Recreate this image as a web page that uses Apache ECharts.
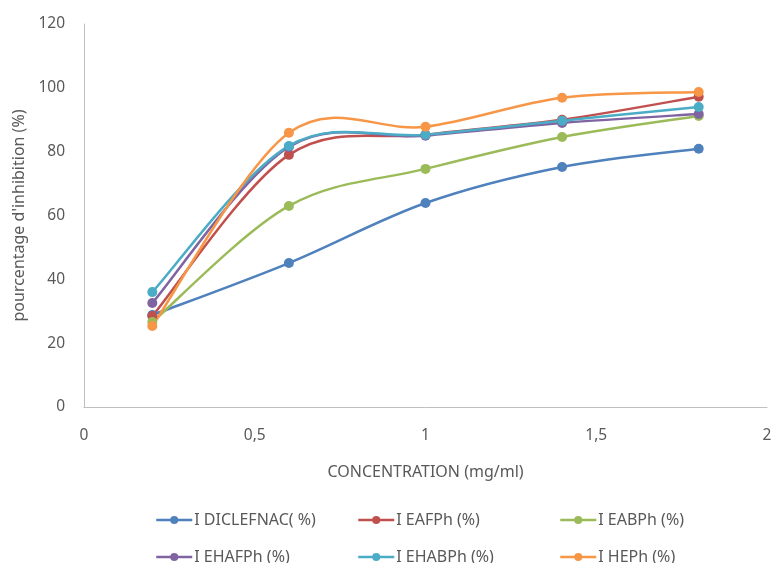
<!DOCTYPE html>
<html>
<head>
<meta charset="utf-8">
<script src="https://cdn.jsdelivr.net/npm/echarts@6/dist/echarts.min.js"></script>
<style>html,body{margin:0;padding:0;background:#fff}#chart{width:773px;height:563px}</style>
</head>
<body>
<div id="chart"></div>
<script>
// Concentrations (mg/ml)
const concentrations = [0.2, 0.6, 1, 1.4, 1.8];
// Inhibition (%) per extract
const diclofenac = [28.8, 45.1, 63.9, 75.2, 80.9];
const eafph = [28.5, 79.0, 85.3, 90.0, 97.2];
const eabph = [26.6, 63.0, 74.6, 84.6, 91.2];
const ehafph = [32.6, 81.5, 85.0, 89.0, 91.8];
const ehabph = [36.0, 81.8, 85.3, 89.7, 94.0];
const heph = [25.4, 85.9, 87.8, 96.9, 98.7];
const seriesNames = ['I DICLEFNAC( %)', 'I EAFPh (%)', 'I EABPh (%)', 'I EHAFPh (%)', 'I EHABPh (%)', 'I HEPh (%)'];
const seriesValues = [diclofenac, eafph, eabph, ehafph, ehabph, heph];
const colors = ['#4F81BD', '#C0504D', '#9BBB59', '#8064A2', '#4BACC6', '#F79646'];

const font = 'Noto Sans';
const textColor = '#595959';
const legendPos = [[150, 507], [352, 507], [554, 507], [150, 544], [352, 544], [554, 544]];

// Cardinal (Catmull-Rom) bezier segment between points i and i+1, in pixel space
function curveSegment(vals, color) {
  return function (params, api) {
    const i = params.dataIndex;
    const n = vals.length;
    if (i >= n - 1) return null;
    const P = k => {
      const j = Math.max(0, Math.min(n - 1, k));
      return api.coord([concentrations[j], vals[j]]);
    };
    const p0 = P(i - 1), p1 = P(i), p2 = P(i + 1), p3 = P(i + 2);
    return {
      type: 'bezierCurve',
      shape: {
        x1: p1[0], y1: p1[1], x2: p2[0], y2: p2[1],
        cpx1: p1[0] + (p2[0] - p0[0]) / 6, cpy1: p1[1] + (p2[1] - p0[1]) / 6,
        cpx2: p2[0] - (p3[0] - p1[0]) / 6, cpy2: p2[1] - (p3[1] - p1[1]) / 6
      },
      style: { stroke: color, lineWidth: 2.5, fill: null }
    };
  };
}

const curves = seriesValues.map((vals, i) => ({
  name: 'curve-' + i,
  type: 'custom',
  z: 2,
  renderItem: curveSegment(vals, colors[i]),
  data: concentrations.map((c, j) => [c, vals[j]]),
  encode: { x: 0, y: 1 }
}));

const markers = seriesValues.map((vals, i) => ({
  name: seriesNames[i],
  type: 'line',
  z: 3 + i,
  symbol: 'circle',
  symbolSize: 10,
  lineStyle: { width: 2.5, color: colors[i], opacity: 0 },
  itemStyle: { color: colors[i] },
  data: concentrations.map((c, j) => [c, vals[j]])
}));

const chart = echarts.init(document.getElementById('chart'));
chart.setOption({
  animation: false,
  color: colors,
  textStyle: { fontFamily: font },
  grid: { left: 84, right: 6, top: 24, bottom: 156, containLabel: false, outerBoundsMode: 'none' },
  legend: seriesNames.map((n, i) => ({
    data: [n],
    left: legendPos[i][0],
    top: legendPos[i][1],
    itemWidth: 36,
    itemHeight: 10,
    itemGap: 0,
    lineStyle: { opacity: 1, width: 2.5 },
    textStyle: { fontFamily: font, fontSize: 16, color: textColor, padding: [0, 0, 0, -3] }
  })),
  xAxis: {
    type: 'value', min: 0, max: 2, interval: 0.5,
    name: 'CONCENTRATION (mg/ml)', nameLocation: 'middle', nameGap: 57,
    nameTextStyle: { fontSize: 16, color: textColor },
    axisLine: { lineStyle: { color: '#BFBFBF', width: 1 } },
    axisTick: { show: false },
    splitLine: { show: false },
    axisLabel: { fontSize: 15.5, color: textColor, margin: 21, formatter: v => String(v).replace('.', ',') }
  },
  yAxis: {
    type: 'value', min: 0, max: 120, interval: 20,
    name: "pourcentage d'inhibition (%)", nameLocation: 'middle', nameGap: 53,
    nameTextStyle: { fontSize: 16, color: textColor },
    axisLine: { show: true, lineStyle: { color: '#BFBFBF', width: 1 } },
    axisTick: { show: false },
    splitLine: { show: false },
    axisLabel: { fontSize: 15.5, color: textColor, margin: 19 }
  },
  series: curves.concat(markers)
});
</script>
</body>
</html>
